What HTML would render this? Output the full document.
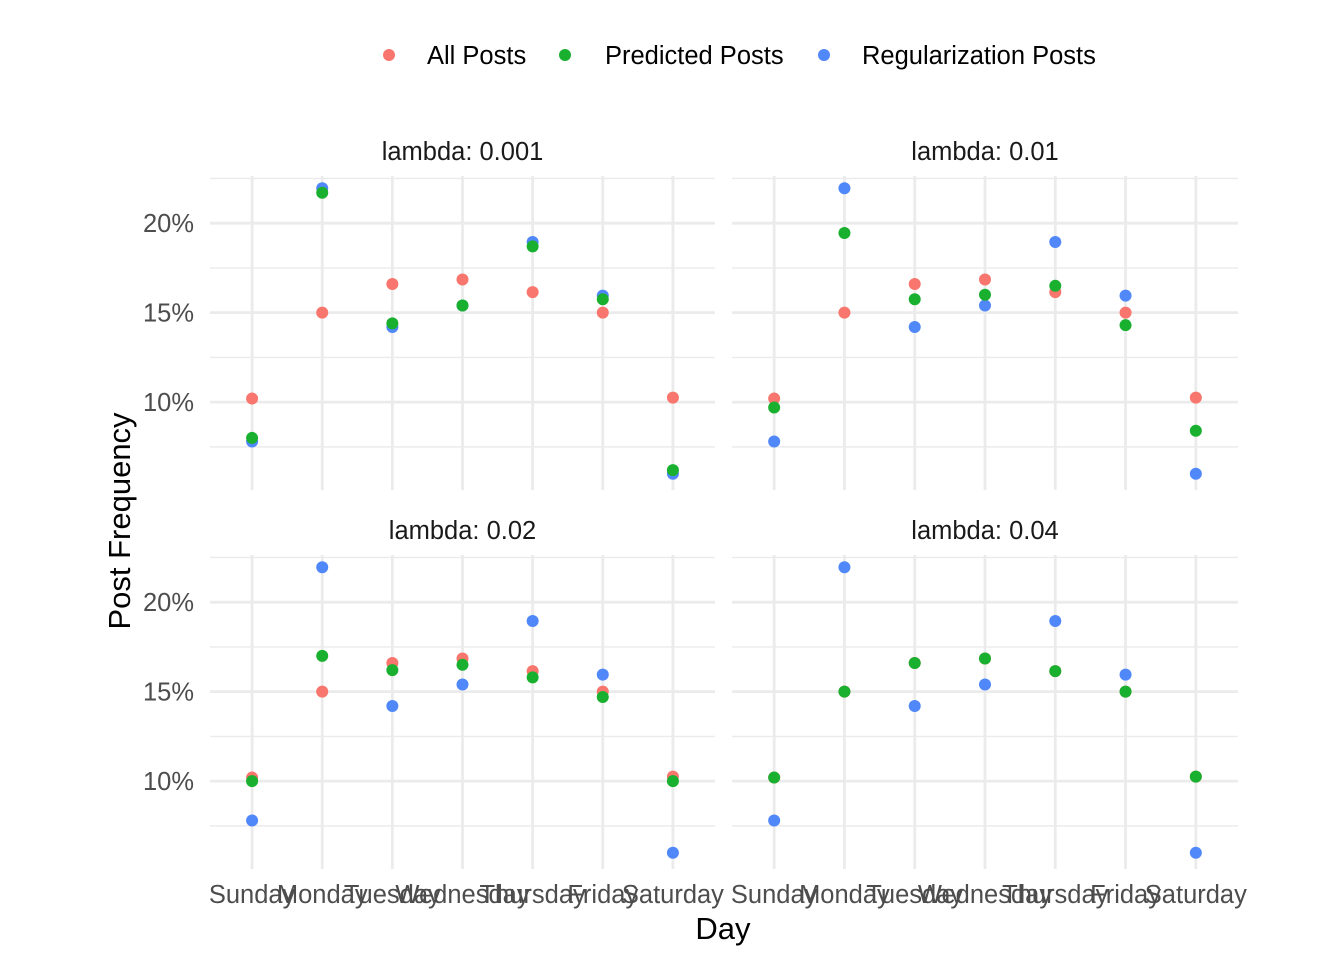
<!DOCTYPE html>
<html><head><meta charset="utf-8"><style>
html,body{margin:0;padding:0;background:#fff;}
svg{display:block;font-family:"Liberation Sans",Arial,sans-serif;}
</style></head><body>
<svg id="chart" width="1344" height="960" viewBox="0 0 1344 960" xmlns="http://www.w3.org/2000/svg">
<g>
<circle cx="389" cy="55" r="6" fill="#F8766D"/>
<text x="427" y="64" font-size="25.5" fill="#000">All Posts</text>
<circle cx="565" cy="55" r="6" fill="#1AB02F"/>
<text x="605" y="64" font-size="25.5" fill="#000">Predicted Posts</text>
<circle cx="824" cy="55" r="6" fill="#5087F9"/>
<text x="862" y="64" font-size="25.5" fill="#000">Regularization Posts</text>
</g>
<text transform="translate(130,521) rotate(-90)" text-anchor="middle" font-size="31" fill="#000">Post Frequency</text>
<text x="723" y="939" text-anchor="middle" font-size="31" fill="#000">Day</text>
<g id="panels"></g>
</svg>
<script>
const days = ["Sunday","Monday","Tuesday","Wednesday","Thursday","Friday","Saturday"];
const lambdas = ["0.001","0.01","0.02","0.04"];
const allPosts = [10.2,15.0,16.6,16.85,16.15,15.0,10.25];
const regPosts = [7.8,21.95,14.2,15.4,18.95,15.95,6.0];
const pred001 = [8.0,21.7,14.4,15.4,18.7,15.75,6.2];
const pred01 = [9.7,19.45,15.75,16.0,16.5,14.3,8.4];
const pred02 = [10.0,17.0,16.2,16.5,15.8,14.7,10.0];
const pred04 = [10.2,15.0,16.6,16.85,16.15,15.0,10.25];
const predicted = [pred001,pred01,pred02,pred04];
const majorTicks = [10,15,20];
const minorTicks = [7.5,12.5,17.5,22.5];
const tickLabels = ["10%","15%","20%"];

const NS="http://www.w3.org/2000/svg";
const root=document.getElementById('panels');
function mk(tag,attrs,parent){const e=document.createElementNS(NS,tag);for(const k in attrs)e.setAttribute(k,attrs[k]);parent.appendChild(e);return e;}
const allV=allPosts.concat(regPosts,...predicted);
const dmin=Math.min(...allV),dmax=Math.max(...allV),pad=(dmax-dmin)*0.05;
const ymin=dmin-pad,ymax=dmax+pad;
const panelsPos=[[210,715,174,488],[732,1238,174,488],[210,715,553,867],[732,1238,553,867]];
const colors={all:"#F8766D",pred:"#1AB02F",reg:"#5087F9"};
panelsPos.forEach((p,i)=>{
  const [x0,x1,y0,y1]=p;
  const g=mk('g',{},root);
  
  
  const bw=(x1-x0)/(days.length+0.2);
  const xs=k=>x0+(k+0.6)*bw;
  const ys=v=>y1-(v-ymin)/(ymax-ymin)*(y1-y0);
  minorTicks.forEach(v=>{const y=ys(v);if(y>=y0-2&&y<=y1){const l=mk('line',{x1:x0,x2:x1,y1:y,y2:y,stroke:'#ebebeb','stroke-width':1.4},g);
    
    }});
  majorTicks.forEach((v,j)=>{const y=ys(v);const l=mk('line',{x1:x0,x2:x1,y1:y,y2:y,stroke:'#ebebeb','stroke-width':2.8},g);
    
    
    if(i%2===0){const t=mk('text',{x:194,y:y+9,'text-anchor':'end','font-size':25.5,fill:'#4d4d4d'},g);t.textContent=tickLabels[j];
      
      }});
  days.forEach((d,k)=>{const x=xs(k);const l=mk('line',{x1:x,x2:x,y1:y0+2,y2:y1+2,stroke:'#ebebeb','stroke-width':2.8},g);
    
    
    if(i>=2){const t=mk('text',{x:x,y:903,'text-anchor':'middle','font-size':25.5,fill:'#4d4d4d'},g);t.textContent=d;
      
      }});
  const st=mk('text',{x:(x0+x1)/2,y:(i<2?160:539),'text-anchor':'middle','font-size':25.5,fill:'#1a1a1a'},g);
  st.textContent='lambda: '+lambdas[i];
  
  
  [[allPosts,colors.all,'all'],[regPosts,colors.reg,'reg'],[predicted[i],colors.pred,'pred']].forEach(([arr,c,n])=>{
    arr.forEach((v,k)=>{const ci=mk('circle',{cx:xs(k),cy:ys(v),r:6,fill:c},g);
      
      });
  });
});
</script>
</body></html>
